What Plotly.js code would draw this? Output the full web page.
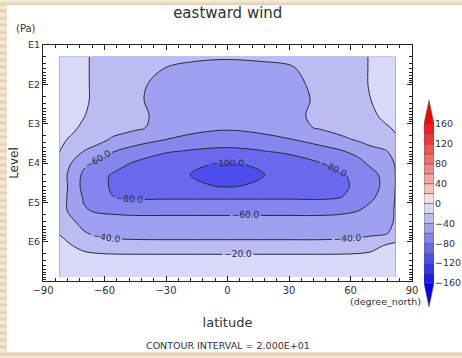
<!DOCTYPE html>
<html><head><meta charset="utf-8">
<script src="https://cdn.plot.ly/plotly-3.0.1.min.js"></script>
<style>
html,body{margin:0;padding:0;width:462px;height:358px;overflow:hidden;}
body{background-color:#e9d8bf;
background-image:repeating-linear-gradient(0deg,rgba(255,246,228,0.55) 0px,rgba(255,246,228,0.55) 2px,rgba(212,178,158,0.35) 3px,rgba(238,222,198,0.25) 5px,rgba(255,246,228,0.55) 7px);}
#panel{position:absolute;left:7px;top:5px;width:455px;height:347px;background:#fff;}
#chart{position:absolute;left:0;top:0;width:462px;height:358px;}
</style></head><body><div id="panel"></div><div id="chart"></div>
<script>
// ---- data ----
const latitude = [-82,-76,-70,-64,-56,-45,-30,-15,0,15,30,45,56,64,70,76,82];
// level as exponent of pressure in Pa (E1 = 10 Pa ... E7)
const levelExp = [1.3,1.6,2.0,2.4,2.8,3.1,3.4,3.7,4.0,4.3,4.6,4.9,5.2,5.5,5.8,6.1,6.4,6.9];
const wind = [
 [-14,-16.5,-18.5,-22,-27,-32,-36.5,-38.8,-39.3,-38.8,-37,-32.5,-28,-23,-19,-16.5,-14],
 [-14,-16.5,-18.5,-22,-27,-35,-40.4,-42,-42.3,-42,-41.5,-35,-28.5,-23,-19,-16.5,-14],
 [-14,-16.5,-18.5,-22,-28,-38,-43,-44.8,-45,-44.8,-43.5,-37,-29,-23,-19,-16.5,-14],
 [-14,-16.5,-18.5,-22,-29,-38,-45,-47.5,-48,-47.5,-45.5,-37.5,-30,-24,-20,-17,-15],
 [-15,-17,-19.7,-23,-29,-35,-46,-51,-52,-51,-46,-35,-29,-25,-22,-18.5,-16],
 [-17,-18.5,-21.5,-25,-30,-36.5,-47,-54,-57,-54,-47,-38,-31,-27,-24,-21.5,-19],
 [-18.5,-21,-25,-31,-43,-51,-60,-67,-71,-67,-61,-53,-44,-37,-30,-25,-21],
 [-19.5,-28,-40.5,-49,-59,-68,-78,-82.5,-84,-81.5,-76,-67,-61,-54,-48,-43,-34],
 [-27,-40.5,-54,-64,-72,-82,-92,-99,-100.5,-99,-91,-80.5,-74,-65,-56,-47,-39],
 [-35,-43,-65.5,-74,-81.5,-90,-97,-100.8,-106,-100.8,-97,-90,-81.5,-75,-66,-56,-39.5],
 [-35,-42.5,-68,-74,-82,-89,-95,-99,-100.5,-99,-95,-89,-83,-76,-67,-57,-39.5],
 [-34,-44,-62,-70,-79.5,-81.5,-81,-81,-81,-81,-81,-81.5,-79.5,-72,-63,-52,-39],
 [-32,-45,-58,-62.5,-63.5,-64,-64,-64,-64,-64,-64,-64,-63,-60.5,-53,-46,-39],
 [-27,-37,-46,-51,-53.5,-55,-55,-55,-55,-55,-55,-55,-54,-52,-48,-44,-39],
 [-20.5,-30,-38,-42.5,-45,-46,-46,-46,-46,-46,-46,-46,-45.5,-44.5,-43,-42,-36],
 [-13,-19.5,-26,-30,-32.5,-33.5,-34,-34,-34,-34,-34,-34,-33,-31,-27,-20,-14],
 [-10,-12,-13.5,-14.5,-15,-15,-15,-15,-15,-15,-15,-15,-15,-14.5,-13.5,-12,-10],
 [-8,-9,-9.5,-10,-10,-10,-10,-10,-10,-10,-10,-10,-10,-10,-9.5,-9,-8]
];
const contourStart = -160, contourEnd = 160, contourSize = 20;
const colorbarBands = [-160,-140,-120,-100,-80,-60,-40,-20,0,20,40,60,80,100,120,140];
const colorbarTicks = [-160,-120,-80,-40,0,40,80,120,160];
const latTicks = [-90,-60,-30,0,30,60,90];
const levelTicks = [1,2,3,4,5,6];
const levelTickText = ['E1','E2','E3','E4','E5','E6'];
const bandColors = [
 'rgb(0,0,245)','rgb(25,25,242)','rgb(50,50,240)','rgb(78,78,238)','rgb(105,105,238)',
 'rgb(133,133,238)','rgb(160,160,240)','rgb(188,188,243)','rgb(216,216,248)',
 'rgb(250,222,222)','rgb(246,193,193)','rgb(244,165,165)','rgb(243,138,138)',
 'rgb(244,110,110)','rgb(245,83,83)','rgb(246,55,55)','rgb(248,28,28)','rgb(250,0,0)'
];
// ---- build ----
const nBands = bandColors.length - 1;
const colorscale = bandColors.map((c,j)=>[j/nBands, c]);
const cmin = contourStart - contourSize/2, cmax = contourEnd + contourSize/2;
const minorLevels = [];
levelTicks.forEach(n=>{ for(let k=2;k<=9;k++) minorLevels.push(n+Math.log10(k)); });

const font = 'DejaVu Sans, Verdana, sans-serif';
const ink = '#333';

const traces = [
 {type:'contour', x:latitude, y:levelExp, z:wind, xaxis:'x', yaxis:'y',
  autocontour:false, colorscale:colorscale, showscale:false, hoverinfo:'skip',
  contours:{start:contourStart,end:contourEnd,size:contourSize,coloring:'fill',
    showlines:true,showlabels:true,labelformat:'.1f',
    labelfont:{family:font,size:9,color:'#2a2a40'}},
  line:{color:'#2a2a3a',width:1,smoothing:1}},
 {type:'bar', x:colorbarBands.map(()=>0), y:colorbarBands.map(()=>contourSize), base:colorbarBands,
  width:1, xaxis:'x2', yaxis:'y2', hoverinfo:'skip', showlegend:false,
  marker:{color:colorbarBands.map(b=>b+contourSize/2), colorscale:colorscale, cmin:cmin, cmax:cmax,
    line:{color:'#555',width:0.6}}}
];

const tri = contourSize*2.4;
const layout = {
 width:462, height:358, margin:{l:0,r:0,t:0,b:0},
 paper_bgcolor:'rgba(0,0,0,0)', plot_bgcolor:'#ffffff',
 font:{family:font,size:10,color:ink},
 showlegend:false, barmode:'overlay',
 title:{text:'eastward wind', x:0.493, xanchor:'center', y:1-13/358, yanchor:'middle',
   font:{family:font,size:15,color:ink}},
 xaxis:{domain:[43/462,412/462], range:[-90,90], anchor:'y', tickvals:latTicks,
   ticks:'inside', ticklen:5, tickwidth:1, tickcolor:'#222', showline:true, linecolor:'#222',
   linewidth:1, mirror:'allticks', zeroline:false, showgrid:false,
   minor:{dtick:6, tick0:0, ticks:'inside', ticklen:3, tickcolor:'#222', showgrid:false},
   tickfont:{family:font,size:10,color:ink},
   title:{text:'latitude', font:{family:font,size:13,color:ink}, standoff:22}},
 yaxis:{domain:[1-281/358,1-45/358], range:[7,1], anchor:'x', tickvals:levelTicks, ticktext:levelTickText,
   ticks:'inside', ticklen:5, tickwidth:1, tickcolor:'#222', showline:true, linecolor:'#222',
   linewidth:1, mirror:'allticks', zeroline:false, showgrid:false,
   minor:{tickvals:minorLevels, ticks:'inside', ticklen:3, tickcolor:'#222', showgrid:false},
   tickfont:{family:font,size:9.5,color:ink},
   title:{text:'Level', font:{family:font,size:12,color:ink}, standoff:6}},
 xaxis2:{domain:[424/462,434/462], range:[-0.5,0.5], anchor:'y2', visible:false, fixedrange:true},
 yaxis2:{domain:[1-310/358,1-95/358], range:[-214.3,218.4], anchor:'x2', side:'right',
   tickvals:colorbarTicks, ticks:'', showline:false, showgrid:false, zeroline:false,
   tickfont:{family:font,size:9.5,color:ink}, fixedrange:true},
 shapes:[
  {type:'path', xref:'x2', yref:'y2', path:`M -0.5 ${contourEnd} L 0.5 ${contourEnd} L 0 ${contourEnd+tri} Z`,
   fillcolor:bandColors[nBands], line:{color:'#555',width:0.6}},
  {type:'path', xref:'x2', yref:'y2', path:`M -0.5 ${contourStart} L 0.5 ${contourStart} L 0 ${contourStart-tri} Z`,
   fillcolor:bandColors[0], line:{color:'#555',width:0.6}}
 ],
 annotations:[
  {text:'(Pa)', xref:'paper', yref:'paper', x:26/462, y:1-28/358, xanchor:'center', yanchor:'middle',
   showarrow:false, font:{family:font,size:10,color:ink}},
  {text:'(degree_north)', xref:'paper', yref:'paper', x:385/462, y:1-301/358, xanchor:'center', yanchor:'middle',
   showarrow:false, font:{family:font,size:9.5,color:ink}},
  {text:'CONTOUR INTERVAL = 2.000E+01', xref:'paper', yref:'paper', x:228/462, y:1-345/358,
   xanchor:'center', yanchor:'middle', showarrow:false, font:{family:font,size:9.5,color:ink}}
 ]
};
Plotly.newPlot('chart', traces, layout, {staticPlot:true, displayModeBar:false});
</script></body></html>
